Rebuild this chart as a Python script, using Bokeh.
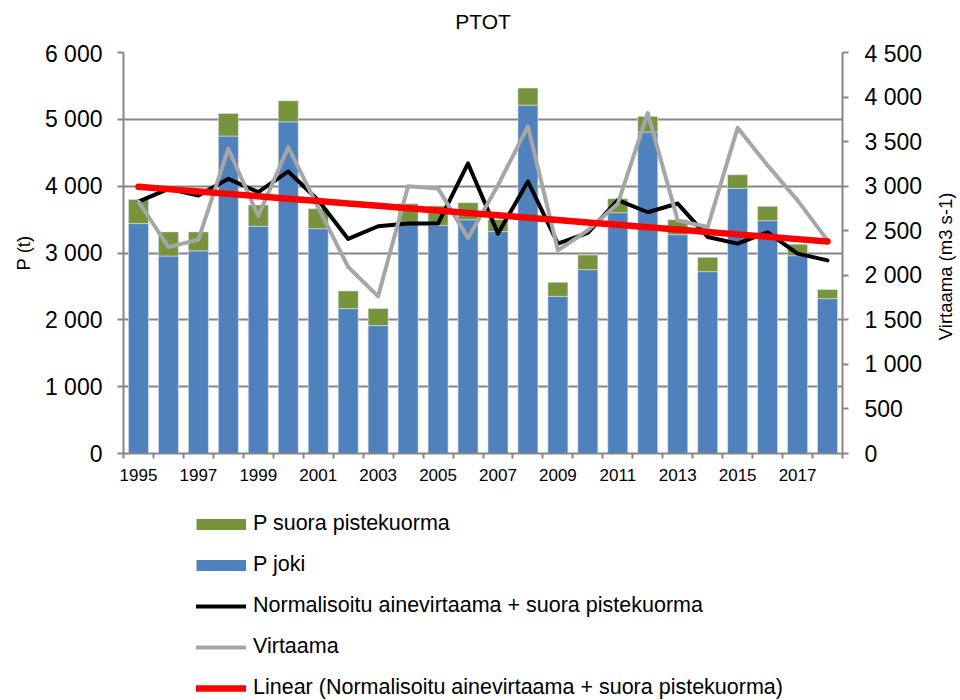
import numpy as np
from bokeh.plotting import figure
from bokeh.layouts import column, row
from bokeh.models import (ColumnDataSource, Range1d, LinearAxis, FixedTicker,
                          Legend, LegendItem, Label)
from bokeh.embed import file_html
from bokeh.resources import INLINE

# ---------------- data ----------------
years = list(range(1995, 2019))
p_joki = [3440, 2955, 3032, 4750, 3400, 4963, 3364, 2168, 1914, 3435, 3413, 3498,
          3320, 5212, 2352, 2751, 3603, 4809, 3274, 2721, 3967, 3483, 2960, 2317]
p_suora = [361, 361, 284, 338, 318, 314, 299, 264, 254, 302, 290, 254,
           180, 255, 209, 219, 209, 234, 224, 214, 204, 215, 170, 135]
normalisoitu = [3770, 3960, 3860, 4110, 3910, 4220, 3790, 3210, 3400, 3440, 3440, 4340,
                3290, 4070, 3140, 3300, 3790, 3610, 3740, 3240, 3140, 3310, 2990, 2890]
virtaama = [2828, 2316, 2400, 3420, 2665, 3438, 2760, 2093, 1764, 3000, 2975, 2417,
            3010, 3670, 2280, 2504, 2803, 3820, 2616, 2541, 3655, 3233, 2840, 2392]

left_ticks = [0, 1000, 2000, 3000, 4000, 5000, 6000]
right_ticks = [0, 500, 1000, 1500, 2000, 2500, 3000, 3500, 4000, 4500]
x_label_years = [1995, 1997, 1999, 2001, 2003, 2005, 2007, 2009, 2011, 2013, 2015, 2017]

title_text = "PTOT"
left_label = "P (t)"
right_label = "Virtaama (m3 s-1)"
legend_labels = ["P suora pistekuorma", "P joki",
                 "Normalisoitu ainevirtaama + suora pistekuorma", "Virtaama",
                 "Linear (Normalisoitu ainevirtaama + suora pistekuorma)"]


def fmt(v):
    return f"{v:,}".replace(",", " ")


# linear trend (Excel-style least squares) of the normalised series
coef = np.polyfit(years, normalisoitu, 1)
trend = list(np.polyval(coef, years))

FONT = "Liberation Sans"
GRID = "#868686"
BLUE = "#4F81BD"
GREEN = "#77933C"
GREYL = "#A6A6A6"
RED = "#FF0000"

MAIN_W = 925
TITLE_H = 40


def blank(fig):
    fig.outline_line_color = None
    fig.xgrid.visible = False
    fig.ygrid.visible = False
    return fig


source = ColumnDataSource(dict(year=years, joki=p_joki, suora=p_suora))

# ---------------- title panel ----------------
tf = blank(figure(width=MAIN_W, height=TITLE_H, x_range=Range1d(0, 1),
                  y_range=Range1d(0, TITLE_H), output_backend="svg",
                  toolbar_location=None, x_axis_type=None, y_axis_type=None,
                  min_border_left=123, min_border_right=MAIN_W - 843,
                  min_border_top=0, min_border_bottom=0))
tf.add_layout(Label(x=0.5, y=TITLE_H - 21, text=title_text, text_align="center",
                    text_baseline="middle", text_font=FONT, text_font_size="21px",
                    text_color="black"))

# ---------------- main chart ----------------
p = figure(width=MAIN_W, height=500 - TITLE_H, x_range=Range1d(1994.5, 2018.5),
           y_range=Range1d(0, 6000), output_backend="svg", toolbar_location=None,
           min_border_left=123, min_border_right=MAIN_W - 843,
           min_border_top=52 - TITLE_H, min_border_bottom=47)
p.extra_y_ranges = {"v": Range1d(0, 4500)}
p.outline_line_color = None

# grid
p.xgrid.visible = False
p.ygrid.ticker = FixedTicker(ticks=left_ticks)
p.ygrid.grid_line_color = GRID
p.ygrid.grid_line_width = 2

# x axis
xa = p.xaxis[0]
xa.ticker = FixedTicker(ticks=x_label_years,
                        minor_ticks=[y - 0.5 for y in years] + [years[-1] + 0.5])
xa.major_tick_line_color = None
xa.major_tick_out = 0
xa.major_tick_in = 0
xa.minor_tick_line_color = GRID
xa.minor_tick_line_width = 2
xa.minor_tick_out = 5
xa.minor_tick_in = 0
xa.axis_line_color = GRID
xa.axis_line_width = 2
xa.major_label_text_font = FONT
xa.major_label_text_font_size = "17px"
xa.major_label_text_color = "black"
xa.major_label_standoff = 10

# left axis
ya = p.yaxis[0]
ya.ticker = FixedTicker(ticks=left_ticks)
ya.major_label_overrides = {t: fmt(t) for t in left_ticks}
ya.major_tick_line_color = GRID
ya.major_tick_line_width = 2
ya.major_tick_out = 6
ya.major_tick_in = 0
ya.minor_tick_line_color = None
ya.axis_line_color = GRID
ya.axis_line_width = 2
ya.major_label_text_font = FONT
ya.major_label_text_font_size = "23px"
ya.major_label_text_color = "black"
ya.major_label_standoff = 15
ya.axis_label = left_label
ya.axis_label_text_font = FONT
ya.axis_label_text_font_size = "18.5px"
ya.axis_label_text_font_style = "normal"
ya.axis_label_text_color = "black"
ya.axis_label_standoff = 8

# right axis
ra = LinearAxis(y_range_name="v", ticker=FixedTicker(ticks=right_ticks))
ra.major_label_overrides = {t: fmt(t) for t in right_ticks}
ra.major_tick_line_color = GRID
ra.major_tick_line_width = 2
ra.major_tick_out = 6
ra.major_tick_in = 0
ra.minor_tick_line_color = None
ra.axis_line_color = GRID
ra.axis_line_width = 2
ra.major_label_text_font = FONT
ra.major_label_text_font_size = "23px"
ra.major_label_text_color = "black"
ra.major_label_standoff = 16
p.add_layout(ra, "right")

# bars
p.vbar_stack(["joki", "suora"], x="year", width=0.667, source=source,
             color=[BLUE, GREEN], line_color="#dbe3ef", line_width=0.6)

# lines
p.line(years, normalisoitu, line_color="black", line_width=4,
       line_join="round", line_cap="round")
p.line(years, virtaama, y_range_name="v", line_color=GREYL, line_width=4,
       line_join="round", line_cap="round")
p.line(years, trend, line_color=RED, line_width=6.5, line_cap="round")

# ---------------- right axis title (narrow panel, reads bottom-to-top) ----------------
rl = blank(figure(width=960 - MAIN_W, height=500, x_range=Range1d(0, 960 - MAIN_W),
                  y_range=Range1d(0, 6000), output_backend="svg",
                  toolbar_location=None, x_axis_type=None, y_axis_type=None,
                  min_border_left=0, min_border_right=0, min_border_top=52,
                  min_border_bottom=47))
rl.add_layout(Label(x=20, y=2800, text=right_label, angle=np.pi / 2,
                    text_align="center", text_baseline="middle", text_font=FONT,
                    text_font_size="18.5px", text_color="black"))

# ---------------- legend (separate panel below the chart) ----------------
lg = blank(figure(width=MAIN_W, height=200, x_range=Range1d(0, 1),
                  y_range=Range1d(0, 1), output_backend="svg",
                  toolbar_location=None, x_axis_type=None, y_axis_type=None,
                  min_border_left=0, min_border_right=0, min_border_top=0,
                  min_border_bottom=0))

nan = float("nan")
px_g = lg.line([0], [nan], line_color=GREEN, line_width=11, line_cap="butt")
px_b = lg.line([0], [nan], line_color=BLUE, line_width=11, line_cap="butt")
px_n = lg.line([0], [nan], line_color="black", line_width=4, line_cap="round")
px_v = lg.line([0], [nan], line_color=GREYL, line_width=4, line_cap="round")
px_t = lg.line([0], [nan], line_color=RED, line_width=6.5, line_cap="round")

legend = Legend(items=[
    LegendItem(label=legend_labels[0], renderers=[px_g]),
    LegendItem(label=legend_labels[1], renderers=[px_b]),
    LegendItem(label=legend_labels[2], renderers=[px_n]),
    LegendItem(label=legend_labels[3], renderers=[px_v]),
    LegendItem(label=legend_labels[4], renderers=[px_t]),
], location=(73, 0), orientation="vertical", glyph_width=50, glyph_height=24,
    label_height=24, spacing=16, padding=0, margin=0, label_standoff=7,
    border_line_color=None, background_fill_alpha=0,
    label_text_font=FONT, label_text_font_size="21.5px", label_text_color="black")
lg.add_layout(legend, "center")

layout = row(column(tf, p, lg, spacing=0), rl, spacing=0)
open("out.html", "w").write(file_html(layout, INLINE))
